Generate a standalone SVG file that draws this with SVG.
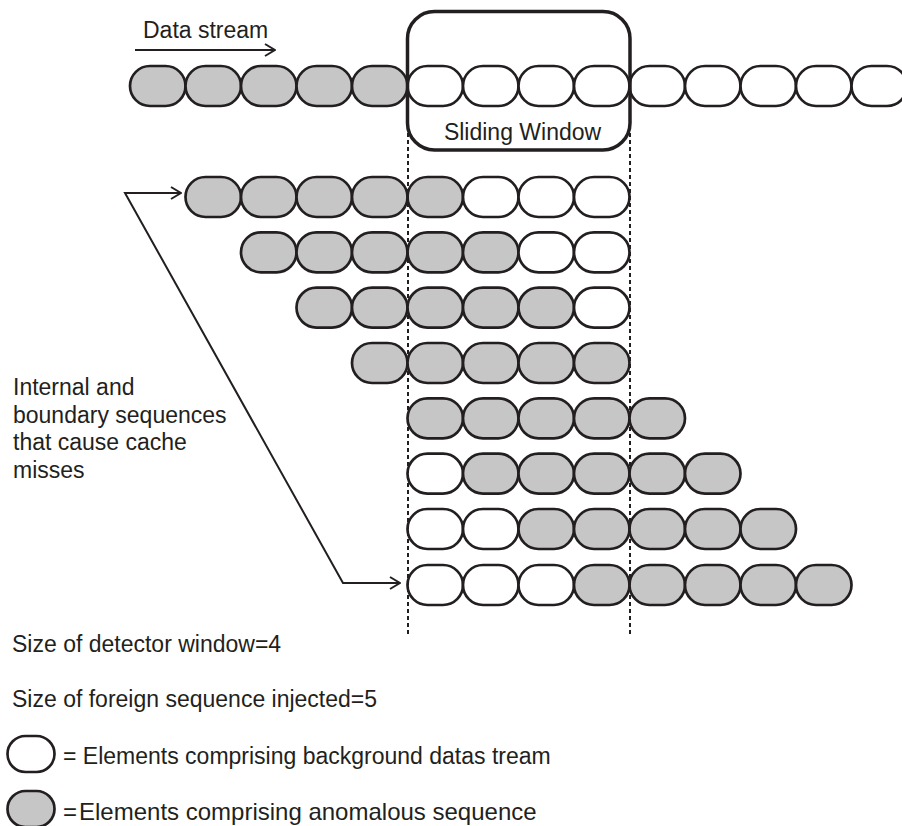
<svg xmlns="http://www.w3.org/2000/svg" xmlns:xlink="http://www.w3.org/1999/xlink" width="902" height="826" viewBox="0 0 902 826">
<style>
  text { font-family: "Liberation Sans", Arial, sans-serif; font-size: 23px; fill: #231f20; }
  .g { fill: #c6c6c6; stroke: #231f20; stroke-width: 2.7; }
  .w { fill: #ffffff; stroke: #231f20; stroke-width: 2.7; }
  .ln { fill: none; stroke: #231f20; stroke-width: 2; }
  .dot { fill: none; stroke: #231f20; stroke-width: 2; stroke-dasharray: 4 3; }
</style>
<defs>
  <rect id="p" x="0" y="-20" width="55.5" height="40" rx="20" ry="20"/>
  <marker id="ah" viewBox="0 0 12 14" refX="11" refY="7" markerWidth="12" markerHeight="14" markerUnits="userSpaceOnUse" orient="auto-start-reverse">
    <path d="M1,1 L11,7 L1,13" fill="none" stroke="#231f20" stroke-width="2"/>
  </marker>
</defs>
<rect width="902" height="826" fill="#ffffff"/>

<g id="data-stream">
  <use href="#p" x="130" y="86" class="g"/>
  <use href="#p" x="185.5" y="86" class="g"/>
  <use href="#p" x="241" y="86" class="g"/>
  <use href="#p" x="296.5" y="86" class="g"/>
  <use href="#p" x="352" y="86" class="g"/>
  <use href="#p" x="407.5" y="86" class="w"/>
  <use href="#p" x="463" y="86" class="w"/>
  <use href="#p" x="518.5" y="86" class="w"/>
  <use href="#p" x="574" y="86" class="w"/>
  <use href="#p" x="629.5" y="86" class="w"/>
  <use href="#p" x="685" y="86" class="w"/>
  <use href="#p" x="740.5" y="86" class="w"/>
  <use href="#p" x="796" y="86" class="w"/>
  <use href="#p" x="851.5" y="86" class="w"/>
</g>

<g id="sliding-window">
  <rect x="407.5" y="11.5" width="222.5" height="138.5" rx="27" ry="27" fill="none" stroke="#231f20" stroke-width="3.5"/>
  <text x="522.5" y="140" text-anchor="middle">Sliding Window</text>
</g>

<g id="row1">
  <use href="#p" x="185.5" y="197" class="g"/>
  <use href="#p" x="241" y="197" class="g"/>
  <use href="#p" x="296.5" y="197" class="g"/>
  <use href="#p" x="352" y="197" class="g"/>
  <use href="#p" x="407.5" y="197" class="g"/>
  <use href="#p" x="463" y="197" class="w"/>
  <use href="#p" x="518.5" y="197" class="w"/>
  <use href="#p" x="574" y="197" class="w"/>
</g>
<g id="row2">
  <use href="#p" x="241" y="252.3" class="g"/>
  <use href="#p" x="296.5" y="252.3" class="g"/>
  <use href="#p" x="352" y="252.3" class="g"/>
  <use href="#p" x="407.5" y="252.3" class="g"/>
  <use href="#p" x="463" y="252.3" class="g"/>
  <use href="#p" x="518.5" y="252.3" class="w"/>
  <use href="#p" x="574" y="252.3" class="w"/>
</g>
<g id="row3">
  <use href="#p" x="296.5" y="307.6" class="g"/>
  <use href="#p" x="352" y="307.6" class="g"/>
  <use href="#p" x="407.5" y="307.6" class="g"/>
  <use href="#p" x="463" y="307.6" class="g"/>
  <use href="#p" x="518.5" y="307.6" class="g"/>
  <use href="#p" x="574" y="307.6" class="w"/>
</g>
<g id="row4">
  <use href="#p" x="352" y="363" class="g"/>
  <use href="#p" x="407.5" y="363" class="g"/>
  <use href="#p" x="463" y="363" class="g"/>
  <use href="#p" x="518.5" y="363" class="g"/>
  <use href="#p" x="574" y="363" class="g"/>
</g>
<g id="row5">
  <use href="#p" x="407.5" y="418.3" class="g"/>
  <use href="#p" x="463" y="418.3" class="g"/>
  <use href="#p" x="518.5" y="418.3" class="g"/>
  <use href="#p" x="574" y="418.3" class="g"/>
  <use href="#p" x="629.5" y="418.3" class="g"/>
</g>
<g id="row6">
  <use href="#p" x="407.5" y="473.6" class="w"/>
  <use href="#p" x="463" y="473.6" class="g"/>
  <use href="#p" x="518.5" y="473.6" class="g"/>
  <use href="#p" x="574" y="473.6" class="g"/>
  <use href="#p" x="629.5" y="473.6" class="g"/>
  <use href="#p" x="685" y="473.6" class="g"/>
</g>
<g id="row7">
  <use href="#p" x="407.5" y="529" class="w"/>
  <use href="#p" x="463" y="529" class="w"/>
  <use href="#p" x="518.5" y="529" class="g"/>
  <use href="#p" x="574" y="529" class="g"/>
  <use href="#p" x="629.5" y="529" class="g"/>
  <use href="#p" x="685" y="529" class="g"/>
  <use href="#p" x="740.5" y="529" class="g"/>
</g>
<g id="row8">
  <use href="#p" x="407.5" y="585" class="w"/>
  <use href="#p" x="463" y="585" class="w"/>
  <use href="#p" x="518.5" y="585" class="w"/>
  <use href="#p" x="574" y="585" class="g"/>
  <use href="#p" x="629.5" y="585" class="g"/>
  <use href="#p" x="685" y="585" class="g"/>
  <use href="#p" x="740.5" y="585" class="g"/>
  <use href="#p" x="796" y="585" class="g"/>
</g>

<g id="connectors">
  <line class="dot" x1="408" y1="133" x2="408" y2="634"/>
  <line class="dot" x1="630" y1="133" x2="630" y2="634"/>
  <line class="ln" x1="135" y1="50" x2="275" y2="50" marker-end="url(#ah)"/>
  <polyline class="ln" points="181,193 125,193 343,583 400,583" marker-start="url(#ah)" marker-end="url(#ah)"/>
</g>

<g id="data-stream-label">
  <text x="143" y="38">Data stream</text>
</g>

<g id="note">
  <text x="13" y="395">Internal and</text>
  <text x="13" y="422.5">boundary sequences</text>
  <text x="13" y="450">that cause cache</text>
  <text x="13" y="477.5">misses</text>
</g>

<g id="legend">
  <text x="12" y="652">Size of detector window=4</text>
  <text x="12" y="707">Size of foreign sequence injected=5</text>
  <rect x="7.5" y="736" width="47" height="36" rx="18" ry="18" class="w"/>
  <text x="63" y="764">= Elements comprising background datas tream</text>
  <rect x="7.5" y="791" width="47" height="36" rx="18" ry="18" class="g"/>
  <text x="63" y="820" style="font-size:24px">=</text>
  <text x="79" y="820" style="font-size:24px">Elements comprising anomalous sequence</text>
</g>
</svg>
